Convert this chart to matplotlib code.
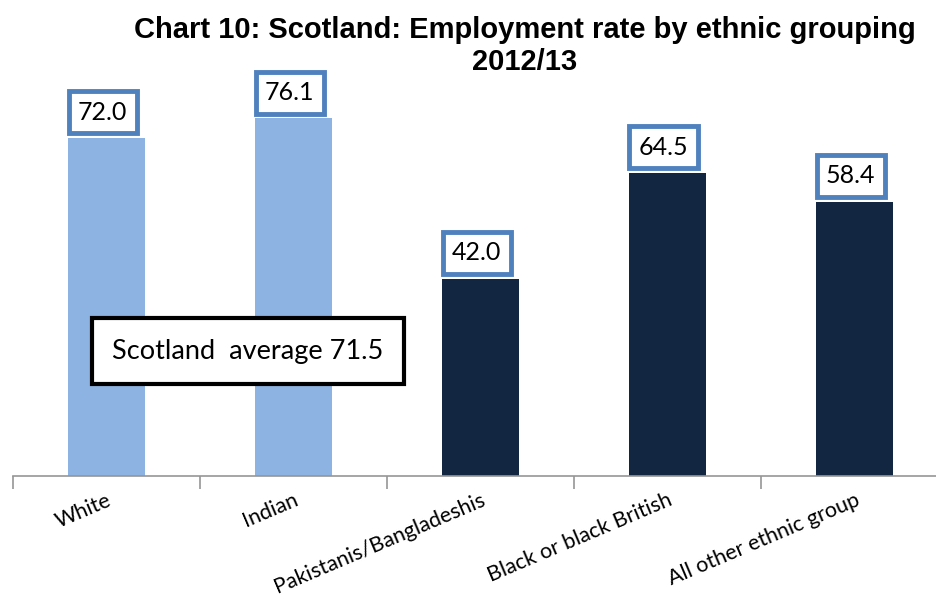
import numpy as np
import matplotlib.pyplot as plt

groups = ['White', 'Indian', 'Pakistanis/Bangladeshis',
          'Black or black British', 'All other ethnic group']
rates = [72.0, 76.1, 42.0, 64.5, 58.4]
bar_colors = ['#8DB3E2', '#8DB3E2', '#132641', '#132641', '#132641']
scotland_avg = 71.5

W, H = 937, 598
fig = plt.figure(figsize=(W / 100, H / 100), dpi=100)

# axes: baseline at 476px, left edge 13px, one category per 187px
left, base = 13, 476
ax = fig.add_axes([left / W, (H - base) / H, (W - left) / W, base / H])
x = np.arange(len(groups))
ax.bar(x, rates, width=0.41, color=bar_colors, zorder=2)
ax.set_xlim(-0.5, -0.5 + (W - left) / 187)
ax.set_ylim(0, base / 4.7)

for s in ['top', 'right', 'left']:
    ax.spines[s].set_visible(False)
ax.spines['bottom'].set_color('#969696')
ax.spines['bottom'].set_linewidth(1.2)
ax.set_yticks([])

ax.set_xticks(x)
ax.set_xticklabels(groups, rotation=23, ha='right', rotation_mode='anchor',
                   fontsize=15.5, family='Lato')
ax.tick_params(axis='x', which='major', length=0, pad=10)
ax.set_xticks(np.arange(len(groups)) - 0.5, minor=True)
ax.tick_params(axis='x', which='minor', length=9, width=1.2, color='#969696')

# value boxes above bars
for xi, v in zip(x, rates):
    ax.text(xi - 0.02, v + 3.0, f'{v:.1f}', ha='center', va='bottom',
            fontsize=18, family='Lato', zorder=3,
            bbox=dict(boxstyle='square,pad=0.38', fc='white',
                      ec='#4F81BD', lw=3.5))

ax.text(0.03, (476 - 351) / 4.7, f'Scotland  average {scotland_avg}',
        fontsize=19.5, family='Lato', va='center', ha='left', zorder=4,
        bbox=dict(boxstyle='square,pad=0.75', fc='white', ec='black', lw=3))

fig.text(525 / W, 1 - 30 / H, 'Chart 10: Scotland: Employment rate by ethnic grouping',
         ha='center', va='center', fontsize=21, fontweight='bold',
         family='Liberation Sans')
fig.text(525 / W, 1 - 62 / H, '2012/13', ha='center', va='center',
         fontsize=21, fontweight='bold', family='Liberation Sans')

fig.savefig('out.png', dpi=100)
